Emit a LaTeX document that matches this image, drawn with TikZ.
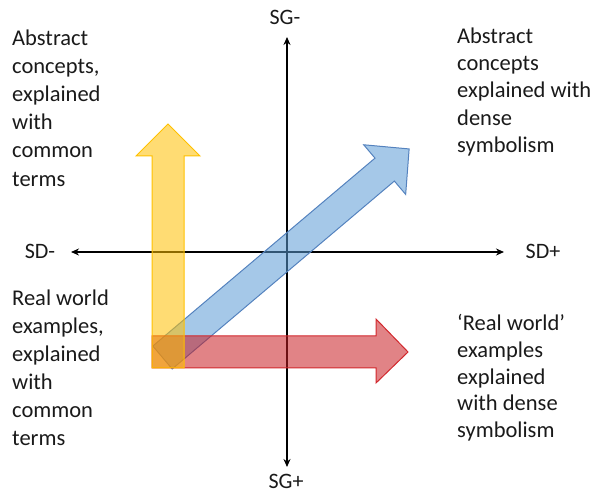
\documentclass[tikz,border=0pt]{standalone}
\usepackage{fontspec}
\setmainfont{Carlito}
\usetikzlibrary{arrows.meta}
\definecolor{ylwline}{HTML}{FFC000}
\definecolor{ylwfill}{HTML}{FFC000}
\definecolor{blueline}{HTML}{5482BE}
\definecolor{bluefill}{HTML}{5B9BD5}
\definecolor{redline}{HTML}{D2282D}
\definecolor{redfill}{HTML}{C81E23}
\definecolor{txt}{HTML}{1A1A1A}
\tikzset{
  axis/.style={line width=1.5pt, black, {Stealth[length=8pt,width=7pt]}-{Stealth[length=8pt,width=7pt]}},
  axlabel/.style={font=\fontsize{22}{26}\selectfont, text=txt, inner sep=0pt, anchor=base},
  quad/.style={font=\fontsize{22.5}{#1}\selectfont, text=txt, inner sep=0pt, anchor=north west, align=left},
  yarrow/.style={draw=ylwline, fill=ylwfill, fill opacity=0.55, line width=1pt, line join=miter},
  barrow/.style={draw=blueline, fill=bluefill, fill opacity=0.55, line width=1pt, line join=miter},
  rarrow/.style={draw=redline, fill=redfill, fill opacity=0.55, line width=1pt, line join=miter}
}
\begin{document}
\begin{tikzpicture}[x=1pt,y=1pt]
\useasboundingbox (0,0) rectangle (595,496);
% axes
\coordinate (sgtop) at (287,459);
\coordinate (sgbot) at (287,29);
\coordinate (sdleft) at (71,244);
\coordinate (sdright) at (504,244);
\draw[axis] (sgbot) -- (sgtop);
\draw[axis] (sdleft) -- (sdright);
\node[axlabel] (sgm) at (285,471) {SG-};
\node[axlabel] (sgp) at (286,8) {SG+};
\node[axlabel] (sdm) at (40,237) {SD-};
\node[axlabel] (sdp) at (543,237) {SD+};
% blue arrow
\begin{scope}[shift={(162.5,138.5)}, rotate=40.22]
\draw[barrow] (0,-15) -- (291,-15) -- (291,-32.5) -- (323,0) -- (291,32.5) -- (291,15) -- (0,15) -- cycle;
\end{scope}
% red arrow
\draw[rarrow] (152,128) -- (376,128) -- (376,113) -- (408,144) -- (376,177) -- (376,160) -- (152,160) -- cycle;
% yellow arrow
\draw[yarrow] (152,128) -- (184,128) -- (184,340) -- (200,340) -- (168,372) -- (136,340) -- (152,340) -- cycle;
% texts
\node[quad=28.2] (tl) at (12,467) {\rule{0pt}{16pt}Abstract\\concepts,\\explained\\with\\common\\terms};
\node[quad=27.3] (tr) at (457,469) {\rule{0pt}{16pt}Abstract\\concepts\\explained with\\dense\\symbolism};
\node[quad=28.1] (bl) at (12,207) {\rule{0pt}{16pt}Real world\\examples,\\explained\\with\\common\\terms};
\node[quad=26.8] (br) at (457,182) {\rule{0pt}{16pt}‘Real world’\\examples\\explained\\with dense\\symbolism};
\end{tikzpicture}
\end{document}
